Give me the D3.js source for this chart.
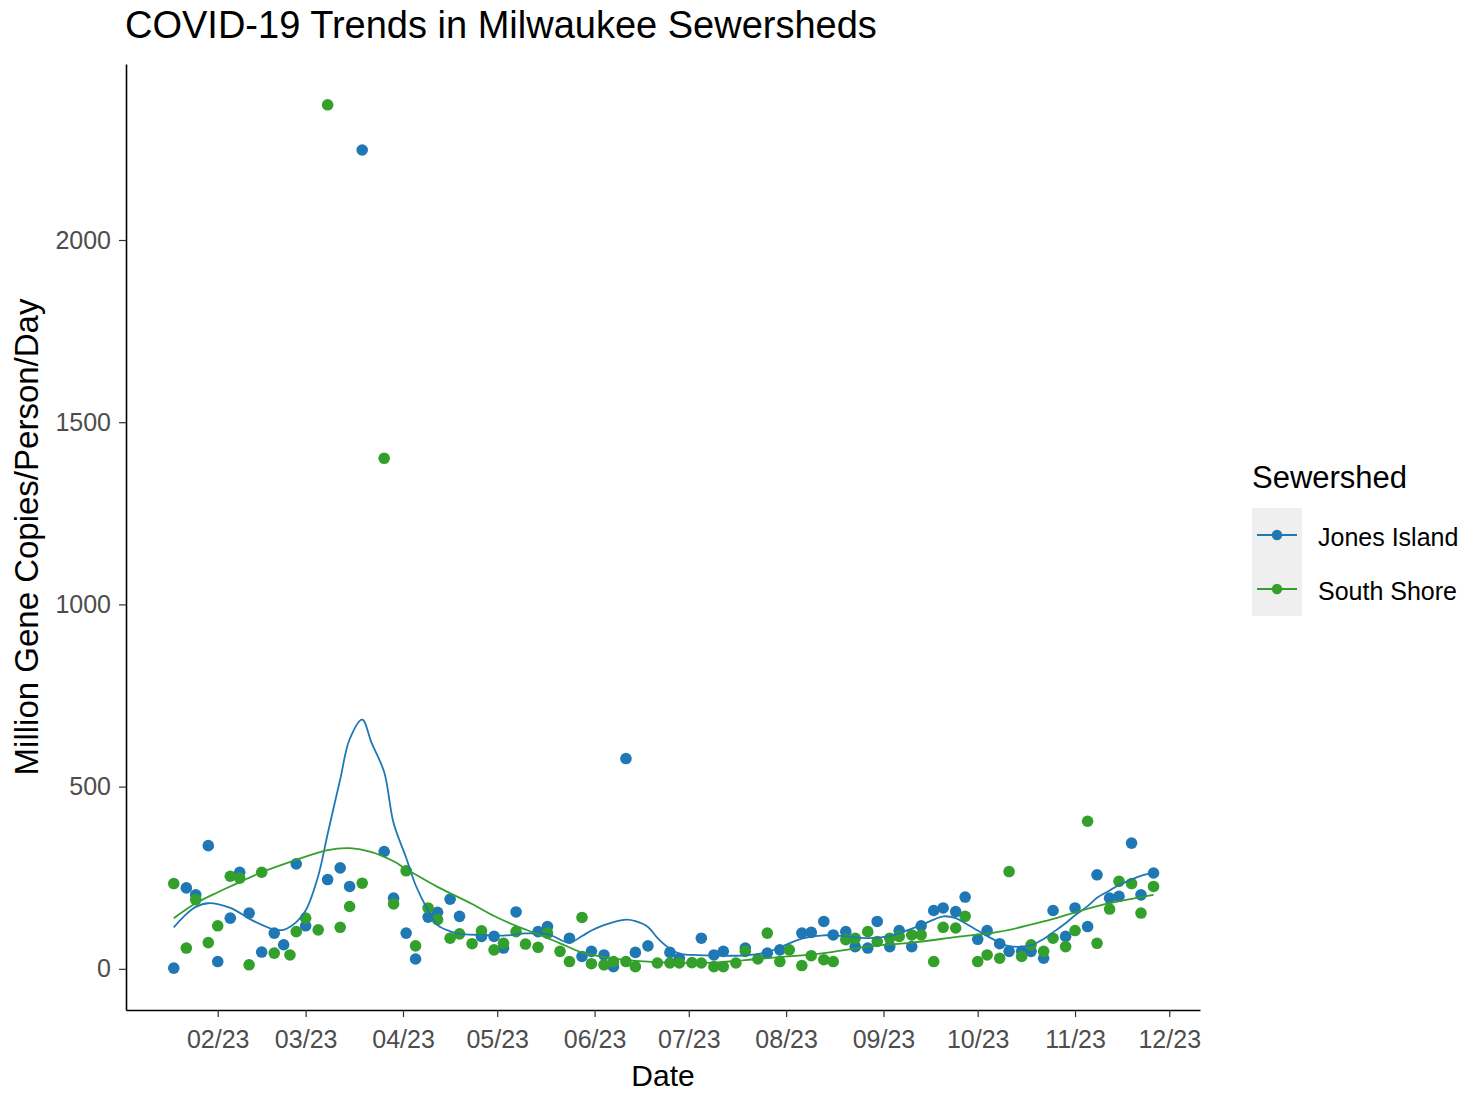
<!DOCTYPE html>
<html>
<head>
<meta charset="utf-8">
<script src="https://cdn.jsdelivr.net/npm/d3@7"></script>
<style>
  html, body { margin: 0; padding: 0; background: #ffffff; }
  svg { display: block; font-family: "Liberation Sans", Arial, sans-serif; }
</style>
</head>
<body>
<svg id="chart" width="1465" height="1093"></svg>
<script>
// ---------------- data ----------------
const seriesNames = ["Jones Island", "South Shore"];
const seriesColors = ["#1F78B4", "#33A02C"];

const jonesDates = ["2023-01-18","2023-01-22","2023-01-25","2023-01-29","2023-02-01","2023-02-05","2023-02-08","2023-02-11","2023-02-15","2023-02-19","2023-02-22","2023-02-26","2023-03-01","2023-03-08","2023-03-12","2023-03-15","2023-03-19","2023-03-26","2023-03-29","2023-04-02","2023-04-05","2023-04-09","2023-04-12","2023-04-16","2023-04-19","2023-04-26","2023-04-30","2023-05-03","2023-05-07","2023-05-14","2023-05-17","2023-05-24","2023-05-28","2023-05-31","2023-06-04","2023-06-07","2023-06-11","2023-06-14","2023-06-18","2023-06-25","2023-06-28","2023-07-05","2023-07-09","2023-07-12","2023-07-19","2023-07-26","2023-07-30","2023-08-06","2023-08-09","2023-08-13","2023-08-16","2023-08-20","2023-08-23","2023-08-27","2023-08-30","2023-09-03","2023-09-06","2023-09-10","2023-09-13","2023-09-17","2023-09-20","2023-09-24","2023-09-27","2023-10-01","2023-10-04","2023-10-08","2023-10-11","2023-10-15","2023-10-18","2023-10-22","2023-10-25","2023-10-29","2023-11-01","2023-11-05","2023-11-08","2023-11-12","2023-11-15","2023-11-19","2023-11-22","2023-11-26"];
const jonesValues = [2,222,203,338,20,139,265,153,46,98,66,288,118,245,277,226,2247,322,194,98,27,142,155,191,144,89,89,57,156,102,116,84,34,48,38,6,577,45,63,45,29,84,38,48,57,43,52,98,100,130,93,102,61,57,130,61,105,61,118,160,167,157,197,81,105,69,48,48,48,29,160,89,167,116,258,194,199,345,203,263];

const southDates = ["2023-01-18","2023-01-22","2023-01-25","2023-01-29","2023-02-01","2023-02-05","2023-02-08","2023-02-11","2023-02-15","2023-02-19","2023-02-24","2023-02-26","2023-03-01","2023-03-05","2023-03-08","2023-03-12","2023-03-15","2023-03-19","2023-03-26","2023-03-29","2023-04-02","2023-04-05","2023-04-09","2023-04-12","2023-04-16","2023-04-19","2023-04-23","2023-04-26","2023-04-30","2023-05-03","2023-05-07","2023-05-10","2023-05-14","2023-05-17","2023-05-21","2023-05-24","2023-05-28","2023-05-31","2023-06-04","2023-06-07","2023-06-11","2023-06-14","2023-06-21","2023-06-25","2023-06-28","2023-07-02","2023-07-05","2023-07-09","2023-07-12","2023-07-16","2023-07-19","2023-07-23","2023-07-26","2023-07-30","2023-08-02","2023-08-06","2023-08-09","2023-08-13","2023-08-16","2023-08-20","2023-08-23","2023-08-27","2023-08-30","2023-09-03","2023-09-06","2023-09-10","2023-09-13","2023-09-17","2023-09-20","2023-09-24","2023-09-27","2023-10-01","2023-10-04","2023-10-08","2023-10-11","2023-10-15","2023-10-18","2023-10-22","2023-10-25","2023-10-29","2023-11-01","2023-11-05","2023-11-08","2023-11-12","2023-11-15","2023-11-19","2023-11-22","2023-11-26"];
const southValues = [234,57,190,72,118,254,249,11,265,43,38,102,139,107,2371,114,171,235,1401,178,269,63,167,135,84,96,69,104,52,70,102,68,59,98,48,20,141,14,11,20,20,6,16,16,16,17,16,6,6,16,48,27,98,20,52,9,36,25,20,80,84,102,75,84,89,93,93,20,114,112,144,20,38,29,267,34,66,48,84,61,105,405,70,164,240,234,153,226];

// smoothed trend curves
const jonesTrendDates = ["2023-01-18","2023-01-22","2023-01-25","2023-01-29","2023-02-05","2023-02-12","2023-02-19","2023-02-22","2023-02-26","2023-03-01","2023-03-05","2023-03-08","2023-03-12","2023-03-15","2023-03-19","2023-03-22","2023-03-26","2023-03-29","2023-04-02","2023-04-05","2023-04-09","2023-04-12","2023-04-16","2023-04-19","2023-04-26","2023-05-03","2023-05-10","2023-05-17","2023-05-24","2023-05-28","2023-05-31","2023-06-04","2023-06-11","2023-06-14","2023-06-18","2023-06-21","2023-06-25","2023-06-28","2023-07-02","2023-07-12","2023-07-19","2023-07-26","2023-08-02","2023-08-06","2023-08-13","2023-08-20","2023-08-27","2023-09-03","2023-09-06","2023-09-13","2023-09-17","2023-09-20","2023-09-24","2023-09-27","2023-10-01","2023-10-04","2023-10-08","2023-10-11","2023-10-18","2023-10-22","2023-10-25","2023-10-29","2023-11-01","2023-11-05","2023-11-08","2023-11-12","2023-11-15","2023-11-19","2023-11-22","2023-11-26"];
const jonesTrendValues = [114,150,170,180,167,133,108,107,128,160,255,370,520,630,684,620,540,400,305,230,160,120,103,96,93,91,97,95,72,90,105,120,135,131,115,85,55,42,38,36,37,46,70,83,92,89,84,90,98,120,135,144,139,125,105,90,72,62,65,82,100,125,147,172,195,215,230,245,255,263];

const southTrendDates = ["2023-01-18","2023-01-25","2023-02-01","2023-02-05","2023-02-15","2023-02-26","2023-03-08","2023-03-15","2023-03-22","2023-03-29","2023-04-02","2023-04-12","2023-04-23","2023-04-30","2023-05-07","2023-05-14","2023-05-21","2023-05-28","2023-06-04","2023-06-14","2023-06-25","2023-07-09","2023-07-19","2023-07-30","2023-08-13","2023-08-27","2023-09-10","2023-09-24","2023-10-08","2023-10-22","2023-11-01","2023-11-12","2023-11-26"];
const southTrendValues = [139,180,210,226,265,299,326,331,320,295,274,225,178,145,118,95,70,45,32,22,17,17,24,32,43,61,72,87,102,130,155,180,203];

const yTickValues = [0, 500, 1000, 1500, 2000];
const xTickDates = ["2023-02-01","2023-03-01","2023-04-01","2023-05-01","2023-06-01","2023-07-01","2023-08-01","2023-09-01","2023-10-01","2023-11-01","2023-12-01"];

// ---------------- layout ----------------
const svg = d3.select("#chart");
const W = 1465, H = 1093;
const plot = { left: 126, right: 1200, top: 64, bottom: 1010 };
svg.append("rect").attr("width", W).attr("height", H).attr("fill", "#ffffff");

const parse = d3.utcParse("%Y-%m-%d");
const x = d3.scaleUtc()
  .domain([Date.UTC(2023, 0, 2, 19), Date.UTC(2023, 11, 10, 19)])
  .range([plot.left, plot.right]);
const y = d3.scaleLinear()
  .domain([-113, 2483])
  .range([plot.bottom, plot.top]);
const color = d3.scaleOrdinal().domain(seriesNames).range(seriesColors);

const series = [
  { name: seriesNames[0], pts: jonesDates.map((d, i) => ({ date: parse(d), value: jonesValues[i] })),
    trend: jonesTrendDates.map((d, i) => ({ date: parse(d), value: jonesTrendValues[i] })) },
  { name: seriesNames[1], pts: southDates.map((d, i) => ({ date: parse(d), value: southValues[i] })),
    trend: southTrendDates.map((d, i) => ({ date: parse(d), value: southTrendValues[i] })) }
];

// points
series.forEach(s => {
  svg.append("g").selectAll("circle").data(s.pts).join("circle")
    .attr("cx", d => x(d.date))
    .attr("cy", d => y(d.value))
    .attr("r", 5.8)
    .attr("fill", color(s.name));
});

// trend lines
const line = d3.line().x(d => x(d.date)).y(d => y(d.value)).curve(d3.curveCatmullRom.alpha(0.5));
series.forEach(s => {
  svg.append("path").datum(s.trend)
    .attr("d", line)
    .attr("fill", "none")
    .attr("stroke", color(s.name))
    .attr("stroke-width", 1.8);
});

// axes
const xAxis = d3.axisBottom(x)
  .tickValues(xTickDates.map(parse))
  .tickFormat(d3.utcFormat("%m/%y"))
  .tickSize(7).tickPadding(13).tickSizeOuter(0);
const gx = svg.append("g").attr("transform", `translate(0,${plot.bottom})`).call(xAxis);
gx.select(".domain").attr("stroke", "#000").attr("stroke-width", 1.6);
gx.selectAll(".tick line").attr("stroke", "#333").attr("stroke-width", 1.2);
gx.selectAll(".tick text").attr("fill", "#4d4d4d").attr("font-size", 25)
  .attr("font-family", "Liberation Sans, Arial, sans-serif");

const yAxis = d3.axisLeft(y).tickValues(yTickValues).tickFormat(d3.format("d"))
  .tickSize(7).tickPadding(8).tickSizeOuter(0);
const gy = svg.append("g").attr("transform", `translate(${plot.left},0)`).call(yAxis);
gy.select(".domain").attr("stroke", "#000").attr("stroke-width", 1.6);
gy.selectAll(".tick line").attr("stroke", "#333").attr("stroke-width", 1.2);
gy.selectAll(".tick text").attr("fill", "#4d4d4d").attr("font-size", 25)
  .attr("font-family", "Liberation Sans, Arial, sans-serif");

// titles
svg.append("text").attr("x", 125).attr("y", 38)
  .attr("font-size", 38).attr("fill", "#000")
  .text("COVID-19 Trends in Milwaukee Sewersheds");
svg.append("text").attr("x", (plot.left + plot.right) / 2).attr("y", 1086)
  .attr("text-anchor", "middle").attr("font-size", 30).attr("fill", "#000")
  .text("Date");
svg.append("text")
  .attr("transform", `translate(38,${(plot.top + plot.bottom) / 2}) rotate(-90)`)
  .attr("text-anchor", "middle").attr("font-size", 33).attr("fill", "#000")
  .text("Million Gene Copies/Person/Day");

// legend
const lg = svg.append("g").attr("transform", "translate(1252,0)");
lg.append("text").attr("x", 0).attr("y", 488).attr("font-size", 31).attr("fill", "#000").text("Sewershed");
seriesNames.forEach((name, i) => {
  const top = 508 + i * 54;
  lg.append("rect").attr("x", 0).attr("y", top).attr("width", 50).attr("height", 54).attr("fill", "#efefef");
  lg.append("line").attr("x1", 5).attr("x2", 45).attr("y1", top + 27).attr("y2", top + 27)
    .attr("stroke", color(name)).attr("stroke-width", 1.8);
  lg.append("circle").attr("cx", 25).attr("cy", top + 27).attr("r", 5.2).attr("fill", color(name));
  lg.append("text").attr("x", 66).attr("y", top + 29).attr("dy", "0.35em")
    .attr("font-size", 25).attr("fill", "#000").text(name);
});
</script>
</body>
</html>
